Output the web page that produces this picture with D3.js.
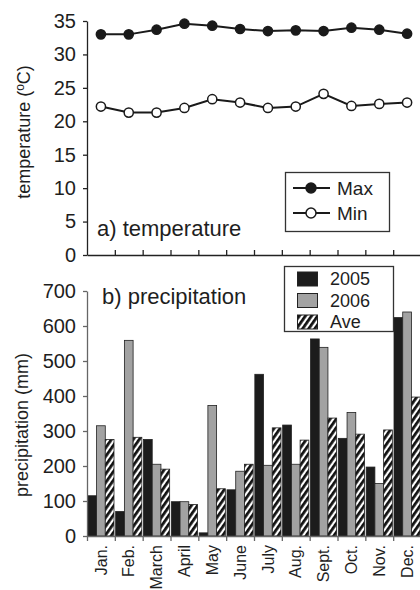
<!DOCTYPE html>
<head>
<meta charset="utf-8">
<script src="https://d3js.org/d3.v7.min.js"></script>
</head>
<style>
body { margin: 0; background: #fff; }
text { font-family: "Liberation Sans", Arial, sans-serif; fill: #1e1e1e; }
.axis path, .axis line { stroke: #222; stroke-width: 1.3px; }
.axis text { font-size: 20px; }
.axisb path, .axisb line { stroke: #666; }
.line { fill: none; stroke: #1a1a1a; stroke-width: 2px; }
</style>
<body>
<script>
// data
var months = ["Jan.", "Feb.", "March", "April", "May", "June", "July", "Aug.", "Sept.", "Oct.", "Nov.", "Dec."];
var tMax = [33.0, 33.0, 33.7, 34.6, 34.3, 33.8, 33.5, 33.6, 33.5, 34.0, 33.7, 33.1];
var tMin = [22.2, 21.3, 21.3, 22.0, 23.3, 22.8, 22.0, 22.2, 24.1, 22.3, 22.6, 22.8];
var p2005 = [115, 70, 276, 98, 9, 132, 462, 317, 563, 279, 197, 624];
var p2006 = [315, 559, 205, 98, 373, 185, 202, 205, 539, 353, 150, 640];
var pAve = [276, 282, 191, 90, 135, 205, 309, 274, 337, 291, 303, 397];
var tempTicks = [0, 5, 10, 15, 20, 25, 30, 35];
var precTicks = [0, 100, 200, 300, 400, 500, 600, 700];
var series = ["2005", "2006", "Ave"];

var width = 420, height = 590;
var x0 = 87, x1 = 421;

var svg = d3.select("body").append("svg")
    .attr("width", width)
    .attr("height", height);

var defs = svg.append("defs");
var pat = defs.append("pattern")
    .attr("id", "hatch")
    .attr("patternUnits", "userSpaceOnUse")
    .attr("width", 5).attr("height", 10)
    .attr("patternTransform", "rotate(35)");
pat.append("rect").attr("width", 5).attr("height", 10).attr("fill", "#fff");
pat.append("line").attr("x1", 1.4).attr("x2", 1.4).attr("y1", 0).attr("y2", 10)
    .attr("stroke", "#111").attr("stroke-width", 2.8);

var x = d3.scaleBand().domain(months).range([x0, x1]).paddingInner(0.06).paddingOuter(0.03);
var xEdge = d3.scaleLinear().domain([0, 12]).range([x0, x1]);
var xMid = d3.scaleBand().domain(months).range([x0, x1]);

// ---- a) temperature
var yT = d3.scaleLinear().domain([0, 35]).range([255, 21]);

svg.append("g").attr("class", "axis")
    .attr("transform", "translate(0,255)")
    .call(d3.axisBottom(xEdge).tickValues(d3.range(1, 12)).tickSizeInner(-5).tickSizeOuter(0).tickFormat(""));
svg.append("g").attr("class", "axis")
    .attr("transform", "translate(" + x0 + ",0)")
    .call(d3.axisLeft(yT).tickValues(tempTicks).tickSizeInner(4).tickSizeOuter(0).tickPadding(7));

var lineT = function(vals) {
  return d3.line()
    .x(function(d, i) { return xMid(months[i]) + xMid.bandwidth() / 2; })
    .y(function(d) { return yT(d); })(vals);
};
[[tMax, "#1a1a1a"], [tMin, "#fff"]].forEach(function(s) {
  svg.append("path").attr("class", "line").attr("d", lineT(s[0]));
  svg.selectAll(null).data(s[0]).enter().append("circle")
    .attr("cx", function(d, i) { return xMid(months[i]) + xMid.bandwidth() / 2; })
    .attr("cy", function(d) { return yT(d); })
    .attr("r", 4.6)
    .attr("fill", s[1]).attr("stroke", "#1a1a1a").attr("stroke-width", 1.5);
});

svg.append("text").attr("x", 97).attr("y", 236).style("font-size", "22px").text("a) temperature");

var tl = svg.append("text")
    .attr("transform", "translate(30,132) rotate(-90)")
    .attr("text-anchor", "middle")
    .style("font-size", "18px");
tl.append("tspan").text("temperature (");
tl.append("tspan").attr("dy", -6).style("font-size", "12px").text("o");
tl.append("tspan").attr("dy", 6).text("C)");

var lg1 = svg.append("g");
lg1.append("rect").attr("x", 285.5).attr("y", 172.5).attr("width", 104).attr("height", 59)
    .attr("fill", "#fff").attr("stroke", "#333").attr("stroke-width", 1.3);
[["Max", "#1a1a1a", 188], ["Min", "#fff", 213]].forEach(function(r) {
  lg1.append("line").attr("x1", 293).attr("x2", 330).attr("y1", r[2]).attr("y2", r[2])
    .attr("stroke", "#1a1a1a").attr("stroke-width", 2);
  lg1.append("circle").attr("cx", 311).attr("cy", r[2]).attr("r", 5)
    .attr("fill", r[1]).attr("stroke", "#1a1a1a").attr("stroke-width", 1.5);
  lg1.append("text").attr("x", 337).attr("y", r[2] + 7).style("font-size", "19px").text(r[0]);
});

// ---- b) precipitation
var yP = d3.scaleLinear().domain([0, 700]).range([536, 291]);
var xs = d3.scaleBand().domain(series).range([0, x.bandwidth()]);
var fills = {"2005": "#1c1c1c", "2006": "#a2a2a2", "Ave": "url(#hatch)"};
var vals = {"2005": p2005, "2006": p2006, "Ave": pAve};

var groups = svg.selectAll(".month").data(months).enter().append("g")
    .attr("transform", function(d) { return "translate(" + x(d) + ",0)"; });
groups.selectAll("rect")
    .data(function(d, i) { return series.map(function(s) { return {s: s, v: vals[s][i]}; }); })
  .enter().append("rect")
    .attr("x", function(d) { return xs(d.s); })
    .attr("y", function(d) { return yP(d.v); })
    .attr("width", xs.bandwidth())
    .attr("height", function(d) { return 536 - yP(d.v); })
    .attr("fill", function(d) { return fills[d.s]; })
    .attr("stroke", "#222").attr("stroke-width", 0.8);

svg.append("g").attr("class", "axis axisb")
    .attr("transform", "translate(0,536)")
    .call(d3.axisBottom(xEdge).tickValues(d3.range(0, 12)).tickSizeInner(5).tickSizeOuter(0).tickFormat(""));
svg.append("g").attr("class", "axis axisb")
    .attr("transform", "translate(" + x0 + ",0)")
    .call(d3.axisLeft(yP).tickValues(precTicks).tickSizeInner(4).tickSizeOuter(0).tickPadding(7));

var xl = svg.append("g").attr("class", "axis")
    .attr("transform", "translate(0,536)")
    .call(d3.axisBottom(xMid).tickSize(0).tickPadding(0));
xl.select(".domain").remove();
xl.selectAll("text")
    .style("font-size", "16px")
    .attr("text-anchor", "end")
    .attr("transform", "rotate(-90)")
    .attr("x", -9).attr("y", 0).attr("dy", "0.35em");

svg.append("text").attr("x", 102).attr("y", 304).style("font-size", "22px").text("b) precipitation");

svg.append("text")
    .attr("transform", "translate(28,425) rotate(-90)")
    .attr("text-anchor", "middle")
    .style("font-size", "18px")
    .text("precipitation (mm)");

var lg2 = svg.append("g");
lg2.append("rect").attr("x", 284.5).attr("y", 266.5).attr("width", 109).attr("height", 65)
    .attr("fill", "#fff").attr("stroke", "#333").attr("stroke-width", 1.3);
series.forEach(function(s, i) {
  var yy = 272 + i * 21.5;
  lg2.append("rect").attr("x", 297.5).attr("y", yy).attr("width", 20).attr("height", 14)
    .attr("fill", fills[s]).attr("stroke", "#222").attr("stroke-width", 1);
  lg2.append("text").attr("x", 330).attr("y", yy + 13).style("font-size", "18px").text(s);
});
</script>
</body>
